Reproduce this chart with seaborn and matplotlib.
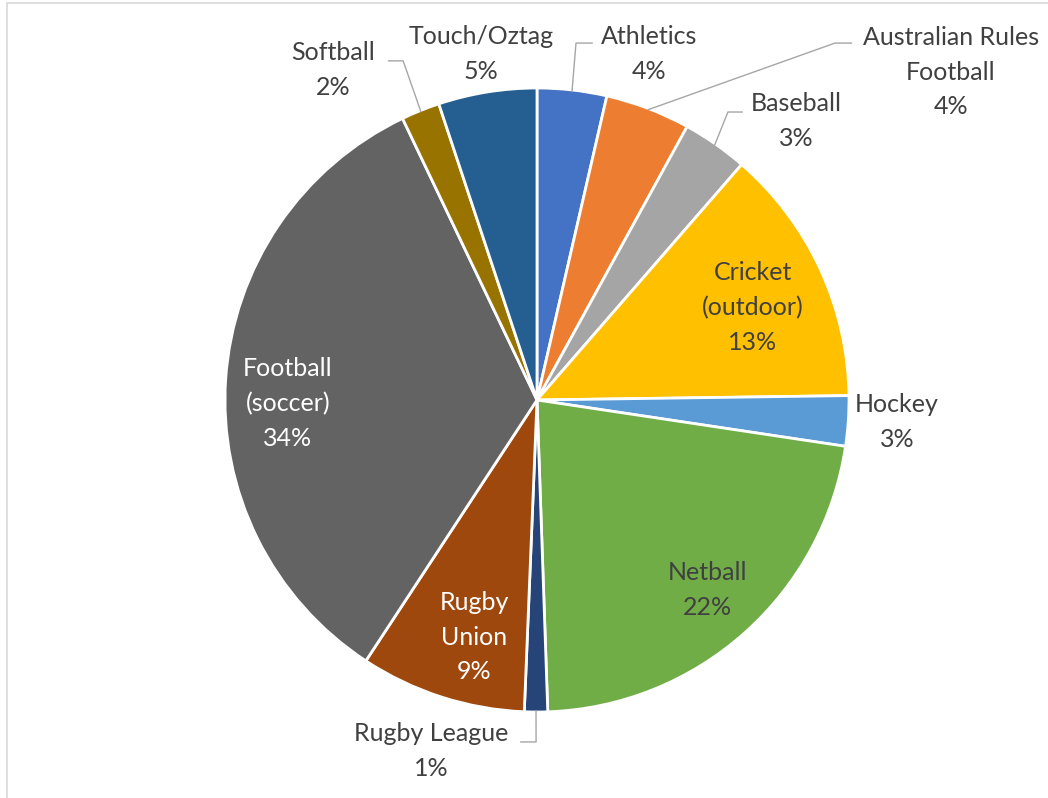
import numpy as np
import matplotlib
matplotlib.use("Agg")
import matplotlib.pyplot as plt
from matplotlib.patches import Rectangle
import seaborn as sns

# Share of participants by sport (percent)
sports = ["Athletics", "Australian Rules\nFootball", "Baseball", "Cricket\n(outdoor)",
          "Hockey", "Netball", "Rugby League", "Rugby\nUnion", "Football\n(soccer)",
          "Softball", "Touch/Oztag"]
shares = [3.6, 4.4, 3.4, 13.4, 2.6, 22.1, 1.2, 8.6, 33.7, 2.0, 5.1]
colors = ["#4472C4", "#ED7D31", "#A5A5A5", "#FFC000", "#5B9BD5", "#70AD47",
          "#264478", "#9E480E", "#636363", "#997300", "#255E91"]

sns.set_theme(style="white")
plt.rcParams["font.family"] = ["Lato", "DejaVu Sans"]

W, H = 1048, 798
fig = plt.figure(figsize=(W / 100, H / 100), dpi=100)
ax = fig.add_axes([0, 0, 1, 1])

# pie centre and radius in pixels, used to set up the data window
cx, cy, R = 537, 400, 312

wedges, _ = ax.pie(shares, colors=colors, startangle=90, counterclock=False,
                   radius=1.0, center=(0, 0),
                   wedgeprops=dict(edgecolor="white", linewidth=2.0))
ax.set_xlim(-cx / R, (W - cx) / R)
ax.set_ylim(-(H - cy) / R, cy / R)
ax.set_aspect("equal")
ax.axis("off")

total = sum(shares)
text_dark = "#404040"

# label layout: (x, y) of text centre, text colour, leader elbow and end (or None)
layout = {
    "Athletics": ((0.359, 1.109), text_dark, (0.125, 1.144), (0.179, 1.144)),
    "Australian Rules\nFootball": ((1.327, 1.051), text_dark, (0.955, 1.144), (1.010, 1.144)),
    "Baseball": ((0.830, 0.894), text_dark, (0.612, 0.923), (0.660, 0.923)),
    "Cricket\n(outdoor)": ((0.692, 0.295), text_dark, None, None),
    "Hockey": ((1.154, -0.071), text_dark, None, None),
    "Netball": ((0.545, -0.609), text_dark, None, None),
    "Rugby League": ((-0.340, -1.125), text_dark, (-0.003, -1.096), (-0.054, -1.096)),
    "Rugby\nUnion": ((-0.202, -0.760), "white", None, None),
    "Football\n(soccer)": ((-0.798, -0.010), "white", None, None),
    "Softball": ((-0.654, 1.058), text_dark, (-0.429, 1.087), (-0.478, 1.087)),
    "Touch/Oztag": ((-0.179, 1.109), text_dark, None, None),
}

for w, name, val in zip(wedges, sports, shares):
    (tx, ty), tc, elbow, end = layout[name]
    ax.text(tx, ty, f"{name}\n{val / total * 100:.0f}%", ha="center", va="center",
            fontsize=18, color=tc, linespacing=1.62)
    if elbow is not None:
        mid = np.deg2rad((w.theta1 + w.theta2) / 2)
        sx, sy = 0.995 * np.cos(mid), 0.995 * np.sin(mid)
        ax.plot([sx, elbow[0], end[0]], [sy, elbow[1], end[1]],
                color="#A6A6A6", lw=1.0, solid_capstyle="butt")

# chart area frame
fig.add_artist(Rectangle((7 / W, -0.05), 1.1, 1 - 3 / H + 0.05,
                         transform=fig.transFigure, fill=False,
                         edgecolor="#D9D9D9", lw=1.2))

fig.savefig("out.png", dpi=100, facecolor="white")
